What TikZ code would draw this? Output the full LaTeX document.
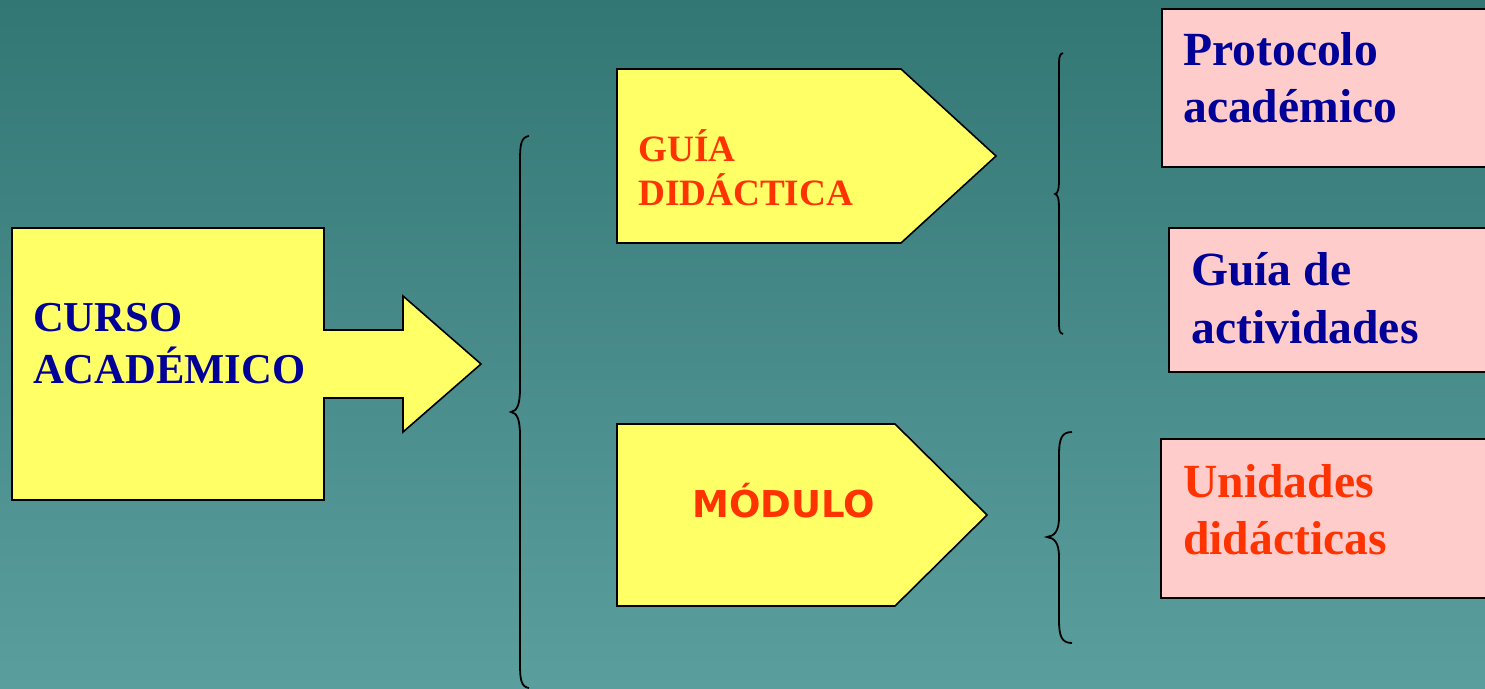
\documentclass[tikz,border=0pt]{standalone}
\usepackage{fontspec}
\setmainfont{Liberation Serif}
\newfontfamily\modfont{DejaVu Sans}
\definecolor{bgtop}{RGB}{51,119,117}
\definecolor{bgbot}{RGB}{91,158,158}
\definecolor{ylw}{RGB}{255,255,102}
\definecolor{pnk}{RGB}{255,204,204}
\definecolor{dblue}{RGB}{0,0,153}
\definecolor{ored}{RGB}{255,51,0}
\begin{document}
\begin{tikzpicture}[x=1pt,y=-1pt,
  shapeline/.style={draw=black,line width=1.6pt,line join=miter},
  yshape/.style={shapeline,fill=ylw},
  pshape/.style={shapeline,fill=pnk},
  lbl/.style={inner sep=0pt,anchor=base west},
  bigtxt/.style={lbl,font=\fontsize{42.6}{50}\selectfont\bfseries},
  midtxt/.style={lbl,font=\fontsize{37.2}{44}\selectfont\bfseries},
  pinktxt/.style={lbl,font=\fontsize{47.6}{57}\selectfont\bfseries},
  modtxt/.style={lbl,font=\modfont\fontsize{37}{44}\selectfont\bfseries},
  bracepath/.style={draw=black,line width=1.8pt}]
\useasboundingbox (0,0) rectangle (1485,688);
\clip (0,0) rectangle (1485,688);
\shade[top color=bgtop,bottom color=bgbot] (0,0) rectangle (1485,688);

% CURSO ACADEMICO block arrow
\draw[yshape] (12,228) -- (324,228) -- (324,330) -- (403,330) -- (403,296)
  -- (481,364) -- (403,432) -- (403,398) -- (324,398) -- (324,500) -- (12,500) -- cycle;
\node[bigtxt,text=dblue] (curso1) at (33,331) {CURSO};
\node[bigtxt,text=dblue] (curso2) at (33,383) {ACADÉMICO};

% big brace
\draw[bracepath] (529,136) .. controls (521,137) and (520,145) .. (520,160) -- (520,388)
  .. controls (520,405) and (517,411) .. (511,412) .. controls (517,413) and (520,419) .. (520,436)
  -- (520,664) .. controls (520,679) and (521,687) .. (529,688);

% GUIA DIDACTICA
\draw[yshape] (617,69) -- (901,69) -- (996,156) -- (901,243) -- (617,243) -- cycle;
\node[midtxt,text=ored] (guia1) at (638,161) {GUÍA};
\node[midtxt,text=ored] (guia2) at (638,205) {DIDÁCTICA};

% MODULO
\draw[yshape] (617,424) -- (895,424) -- (987,515) -- (895,606) -- (617,606) -- cycle;
\node[modtxt,text=ored] (modulo) at (692,517) {MÓDULO};

% upper right brace
\draw[bracepath] (1063,53) .. controls (1059,54) and (1059,58) .. (1059,68) -- (1059,178)
  .. controls (1059,190) and (1058,193) .. (1055,194) .. controls (1058,195) and (1059,198) .. (1059,210)
  -- (1059,320) .. controls (1059,330) and (1059,333) .. (1063,334);

% lower right brace
\draw[bracepath] (1072,432) .. controls (1062,432) and (1059,438) .. (1059,455) -- (1059,517)
  .. controls (1059,532) and (1054,536) .. (1047,537) .. controls (1054,538) and (1059,542) .. (1059,557)
  -- (1059,620) .. controls (1059,637) and (1062,643) .. (1072,643);

% pink boxes
\draw[pshape] (1162,9) rectangle (1495,167);
\node[pinktxt,text=dblue] (prot1) at (1183,65) {Protocolo};
\node[pinktxt,text=dblue] (prot2) at (1183,122) {académico};

\draw[pshape] (1169,228) rectangle (1495,372);
\node[pinktxt,text=dblue] (act1) at (1191,285) {Guía de};
\node[pinktxt,text=dblue] (act2) at (1191,343) {actividades};

\draw[pshape] (1161,439) rectangle (1495,598);
\node[pinktxt,text=ored] (uni1) at (1183,497) {Unidades};
\node[pinktxt,text=ored] (uni2) at (1183,554) {didácticas};
\end{tikzpicture}
\end{document}
